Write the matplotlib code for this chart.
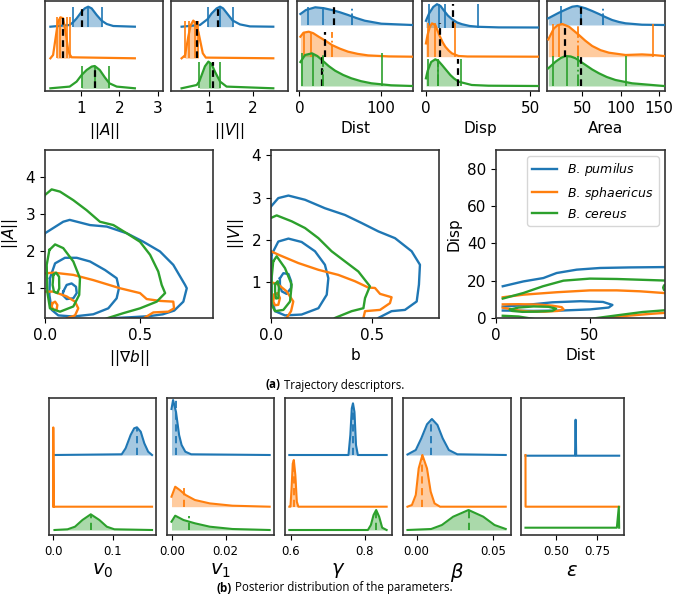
import numpy as np
import matplotlib.pyplot as plt
from matplotlib.lines import Line2D

cols = ['#1f77b4', '#ff7f0e', '#2ca02c']
species = [r'$B.\,pumilus$', r'$B.\,sphaericus$', r'$B.\,cereus$']

# ---- top row: trajectory descriptor posteriors (x, height in px above baseline)
A_x = [[0.21, 0.71, 0.80, 0.89, 1.02, 1.10, 1.19, 1.28, 1.41, 1.54, 1.67, 1.84, 2.40],
       [0.21, 0.28, 0.35, 0.37, 0.41, 0.47, 0.54, 0.61, 0.67, 0.71, 0.76, 2.40],
       [0.21, 0.71, 0.89, 1.02, 1.15, 1.28, 1.36, 1.49, 1.62, 1.74, 1.93, 2.40]]
A_h = [[0, 1.7, 4.5, 8.3, 15, 18.3, 20, 18.3, 11.7, 6, 2.7, 0.7, 0],
       [0, 3.3, 21.7, 27, 36.7, 41, 40, 25, 8.3, 4, 1, 0],
       [0, 1.7, 6.7, 13.3, 18.3, 21.7, 22.3, 18.3, 11, 5, 1.7, 0]]
A_solid = [[0.80, 1.19, 1.54], [0.37, 0.45, 0.63, 0.71], [1.02, 1.36, 1.74]]
A_black = [1.02, 0.54, 1.37]
A_mean = [None, None, None]
A_fill = [(0.80, 1.54), (0.37, 0.71), (1.02, 1.74)]

V_x = [[0.36, 0.785, 0.96, 1.055, 1.17, 1.25, 1.32, 1.44, 1.54, 1.71, 1.94, 2.48],
       [0.36, 0.44, 0.515, 0.57, 0.63, 0.69, 0.75, 0.85, 0.92, 2.48],
       [0.36, 0.71, 0.77, 0.825, 0.90, 0.98, 1.055, 1.13, 1.25, 1.40, 2.48]]
V_h = [[0, 1.7, 7.5, 13.3, 18.3, 20, 18.3, 11.7, 6.2, 2.3, 0.3, 0],
       [0, 3, 21.7, 33, 37.7, 35, 26, 5, 0.7, 0],
       [0, 3.3, 7, 13.3, 22, 26.7, 24, 16.7, 6.7, 1.7, 0]]
V_solid = [[0.96, 1.25, 1.54], [0.44, 0.52, 0.67, 0.75], [0.77, 1.02, 1.25]]
V_black = [1.21, 0.72, 1.08]
V_mean = [None, None, None]
V_fill = [(0.96, 1.54), (0.44, 0.75), (0.77, 1.25)]

Dist_x = [[1.2, 8, 19.5, 30, 40, 50, 60, 70, 80.5, 101, 139],
          [1.2, 5, 11.4, 17, 23.7, 32, 40, 50, 60, 72, 84.6, 110, 139],
          [1.2, 7, 15.5, 22, 27.7, 36, 44, 54, 64, 76, 88.7, 113, 139]]
Dist_h = [[11, 15, 17.7, 16.8, 15, 12.7, 10, 7, 4.3, 1.3, 0],
          [20, 24, 25, 23.5, 20, 16, 11.7, 8, 5, 2.8, 1.3, 0.3, 0],
          [24, 31, 32.7, 30, 26, 20, 15.3, 11, 7.7, 4.8, 2.7, 0.7, 0]]
Dist_solid = [[10.2, 28.5], [5.3, 14.3], [3.3, 16.3, 101.7]]
Dist_black = [42.7, 31.7, 27.7]
Dist_mean = [65, 40, 29]
Dist_fill = [(0, 140), (0, 140), (0, 140)]

Disp_x = [[0, 1.5, 3.5, 5.3, 7, 8.5, 10.5, 12.5, 15, 17.3, 21, 25.3, 35, 54],
          [0, 0.8, 1.9, 2.9, 4.5, 6.4, 8, 9.3, 11, 12.5, 15.7, 20, 54],
          [0, 0.8, 2.5, 4.5, 6, 7.7, 9.7, 11.7, 13.5, 15.7, 22, 30, 54]]
Disp_h = [[6.7, 14, 20.5, 23.3, 21.5, 17.3, 12, 8.3, 5, 3.3, 1.5, 0.7, 0.1, 0],
          [13.3, 22, 30, 33.3, 31.7, 21.7, 14.5, 10, 6, 3.3, 0.7, 0.2, 0],
          [7.7, 15, 24, 26.7, 25, 21, 16, 11, 7.5, 4.3, 1, 0.3, 0]]
Disp_solid = [[1.6, 6.1, 9.3, 25], [1.0, 4.5, 13.8], [0.8, 5.6, 16.8]]
Disp_black = [12.8, 6.6, 15.4]
Disp_mean = [None, None, 6.0]
Disp_fill = [(0, 25.3), (0, 15.7), (0, 17)]

Area_x = [[5.7, 19.6, 30, 37, 43.5, 54.3, 63, 71.8, 80, 89, 98, 106.5, 128, 156.5],
          [5.7, 13, 18, 24, 32.7, 39, 45.7, 54, 63, 74, 84.8, 106.5, 128, 142, 156.5],
          [5.7, 15.2, 22, 28.2, 35, 41.3, 54.3, 63, 71.8, 82, 93.4, 115, 156.5]]
Area_h = [[6.7, 12.3, 16, 18.3, 19, 16.7, 14, 11, 8, 5, 3, 1.7, 0.3, 0],
          [17.3, 28.3, 31.5, 32.7, 30, 26, 21.7, 16, 10.7, 6.5, 4, 1.7, 2.3, 1.7, 0.7],
          [17.7, 24.3, 28, 30, 29.5, 27.7, 21, 16.5, 12.7, 9, 6, 2.7, 0]]
Area_solid = [[21.7, 47.8], [11.8, 19.6, 142], [11.8, 30.4, 106.5]]
Area_black = [49, 27.4, 49]
Area_mean = [77, 44.8, 44.8]
Area_fill = [(0, 160), (0, 142), (0, 160)]

# ---- bottom row: parameter posteriors
v0_x = [[0.002, 0.115, 0.1216, 0.13, 0.136, 0.1406, 0.147, 0.153, 0.1595, 0.166],
        [0.0, 0.0, 0.0008, 0.166],
        [0.002, 0.024, 0.0365, 0.049, 0.063, 0.0775, 0.09, 0.1027, 0.166]]
v0_h = [[0, 0.7, 6.7, 20, 26.7, 27.7, 23.3, 11.7, 3.3, 0],
        [0, 79.3, 0, 0],
        [0, 0.7, 3.3, 10, 15.7, 10, 3.3, 0.7, 0]]
v0_mean = [0.1406, 0.0, 0.063]

v1_x = [[-0.0003, 0.0003, 0.0014, 0.00256, 0.0035, 0.0049, 0.0071, 0.0366],
        [-0.0003, 0.0011, 0.0028, 0.005, 0.0085, 0.0141, 0.0226, 0.0366],
        [-0.0003, 0.0011, 0.0042, 0.0085, 0.0141, 0.0226, 0.0366]]
v1_h = [[46, 55, 43, 20, 10, 3.3, 0.7, 0],
        [10, 20, 16.7, 11.7, 6.7, 3.3, 1, 0],
        [8.3, 14.3, 10, 6.7, 3.3, 1, 0]]
v1_mean = [0.0014, 0.0045, 0.0064]

g_x = [[0.5965, 0.756, 0.7611, 0.765, 0.7682, 0.7722, 0.7763, 0.7813, 0.859],
       [0.5965, 0.5995, 0.6025, 0.6057, 0.6086, 0.6127, 0.6167, 0.6208, 0.859],
       [0.5965, 0.8084, 0.8165, 0.8237, 0.8308, 0.8388, 0.847, 0.859]]
g_h = [[0, 0, 20, 46.7, 51.7, 43, 10, 0, 0],
       [0, 0, 18, 43, 46.7, 31.7, 5, 0, 0],
       [0, 0, 5, 15, 20, 13.3, 2.3, 0]]
g_mean = [0.7682, 0.6086, 0.8308]

b_x = [[-0.0059, -0.0005, 0.0031, 0.0068, 0.01, 0.0136, 0.017, 0.021, 0.0265, 0.058],
       [-0.0059, -0.003, -0.0005, 0.0014, 0.0038, 0.0068, 0.0092, 0.0117, 0.0153, 0.058],
       [-0.0059, 0.0095, 0.0165, 0.0238, 0.0338, 0.0434, 0.0507, 0.058]]
b_h = [[0.5, 5, 16.7, 30.7, 36, 30, 16.7, 5, 0.7, 0],
       [0, 1.7, 11.7, 38.3, 51.7, 38.3, 15, 3.3, 0, 0],
       [0, 1, 5, 13.3, 20, 13.3, 5, 1]]
b_mean = [0.0095, 0.0038, 0.0338]

e_x = [[0.314, 0.6145, 0.618, 0.6215, 0.882],
       [0.314, 0.3145, 0.882],
       [0.314, 0.868, 0.880, 0.882]]
e_h = [[0, 0, 36, 0, 0],
       [51.7, 0, 0],
       [0, 0, 21, 0]]
e_mean = [None, None, None]

# ---- middle row: density contours (species index, x, y)
M1 = [(0, [-0.01, 0.0, 0.096, 0.13, 0.237, 0.325, 0.43, 0.518, 0.605, 0.675, 0.737, 0.746, 0.728, 0.68, 0.62, 0.55, 0.45, 0.37, 0.33],
          [2.3, 2.48, 2.79, 2.84, 2.70, 2.66, 2.48, 2.25, 1.99, 1.63, 1.09, 1.0, 0.64, 0.40, 0.30, 0.25, 0.22, 0.20, 0.1]),
      (0, [0.026, 0.053, 0.105, 0.167, 0.237, 0.316, 0.377, 0.389, 0.377, 0.333, 0.254, 0.149, 0.070, 0.035, 0.023, 0.026],
          [1.27, 1.67, 1.82, 1.82, 1.72, 1.49, 1.27, 1.0, 0.73, 0.46, 0.30, 0.24, 0.27, 0.42, 0.82, 1.27]),
      (0, [0.096, 0.114, 0.14, 0.163, 0.167, 0.149, 0.114, 0.093, 0.096],
          [0.91, 1.09, 1.13, 1.04, 0.87, 0.73, 0.71, 0.82, 0.91]),
      (1, [-0.01, 0.0, 0.044, 0.149, 0.254, 0.395, 0.5, 0.535, 0.605, 0.675, 0.679, 0.649, 0.57, 0.518, 0.5],
          [1.40, 1.40, 1.42, 1.36, 1.22, 1.0, 0.87, 0.71, 0.66, 0.64, 0.46, 0.37, 0.35, 0.19, 0.1]),
      (1, [-0.01, 0.0, 0.044, 0.114, 0.158, 0.175, 0.158, 0.114, 0.09],
          [0.91, 0.91, 0.91, 0.78, 0.64, 0.46, 0.27, 0.19, 0.1]),
      (1, [0.04, 0.053, 0.065, 0.061, 0.044, 0.035, 0.04],
          [0.6, 0.64, 0.55, 0.42, 0.42, 0.51, 0.6]),
      (2, [-0.01, 0.0, 0.035, 0.079, 0.149, 0.219, 0.289, 0.36, 0.43, 0.5, 0.553, 0.596, 0.614, 0.632, 0.588, 0.5, 0.412, 0.325, 0.29],
          [3.4, 3.51, 3.66, 3.6, 3.37, 3.1, 2.79, 2.7, 2.48, 2.25, 1.9, 1.45, 1.09, 0.87, 0.64, 0.46, 0.33, 0.19, 0.1]),
      (2, [0.023, 0.053, 0.096, 0.149, 0.184, 0.18, 0.149, 0.079, 0.026, 0.012, 0.009, 0.023],
          [2.03, 2.18, 2.08, 1.72, 1.27, 0.82, 0.51, 0.37, 0.46, 0.91, 1.63, 2.03]),
      (2, [0.044, 0.058, 0.074, 0.075, 0.065, 0.047, 0.04, 0.044],
          [1.36, 1.42, 1.31, 1.0, 0.87, 0.91, 1.09, 1.36])]

M2 = [(0, [-0.01, 0.0, 0.036, 0.086, 0.168, 0.266, 0.365, 0.447, 0.53, 0.612, 0.694, 0.735, 0.73, 0.719, 0.661, 0.595, 0.53, 0.51],
          [2.7, 2.79, 2.99, 3.05, 2.95, 2.75, 2.59, 2.4, 2.2, 2.04, 1.73, 1.41, 0.94, 0.54, 0.34, 0.31, 0.15, 0.05]),
      (0, [0.003, 0.036, 0.086, 0.151, 0.217, 0.266, 0.283, 0.275, 0.234, 0.151, 0.069, 0.02, 0.003, 0.003],
          [1.65, 1.96, 2.03, 1.95, 1.73, 1.41, 1.09, 0.7, 0.38, 0.23, 0.21, 0.31, 0.62, 1.65]),
      (0, [0.044, 0.061, 0.086, 0.099, 0.099, 0.077, 0.053, 0.044, 0.044],
          [1.09, 1.21, 1.19, 1.02, 0.86, 0.72, 0.78, 0.94, 1.09]),
      (1, [-0.01, 0.0, 0.036, 0.135, 0.234, 0.332, 0.414, 0.48, 0.513, 0.538, 0.595, 0.587, 0.538, 0.464, 0.456, 0.45],
          [1.73, 1.73, 1.65, 1.45, 1.29, 1.17, 1.02, 0.87, 0.86, 0.72, 0.64, 0.5, 0.34, 0.31, 0.15, 0.05]),
      (1, [-0.01, 0.0, 0.036, 0.077, 0.11, 0.099, 0.077, 0.07],
          [1.0, 1.0, 0.94, 0.78, 0.54, 0.31, 0.15, 0.05]),
      (1, [0.016, 0.033, 0.044, 0.036, 0.02, 0.011, 0.016],
          [0.7, 0.74, 0.62, 0.46, 0.45, 0.54, 0.7]),
      (2, [-0.01, 0.0, 0.028, 0.102, 0.168, 0.234, 0.299, 0.365, 0.431, 0.488, 0.464, 0.456, 0.398, 0.316, 0.29],
          [2.5, 2.52, 2.58, 2.44, 2.28, 2.04, 1.73, 1.49, 1.25, 0.9, 0.62, 0.38, 0.31, 0.15, 0.05]),
      (2, [0.011, 0.028, 0.069, 0.102, 0.094, 0.061, 0.02, 0.003, 0.003, 0.011],
          [1.49, 1.61, 1.33, 0.94, 0.54, 0.34, 0.31, 0.46, 1.09, 1.49]),
      (2, [0.02, 0.033, 0.039, 0.036, 0.025, 0.02, 0.02],
          [0.95, 1.02, 0.86, 0.62, 0.61, 0.78, 0.95])]

M3 = [(0, [3.6, 14.6, 25.2, 32.3, 43, 55.4, 71.4, 92], [17, 19.6, 21.4, 24.1, 25.9, 26.8, 27.1, 27.3]),
      (0, [3.6, 15, 30, 45, 57, 62, 60, 50, 35, 20, 10, 3.6], [6.1, 6.9, 8.4, 9.0, 8.6, 7.0, 5.6, 4.6, 4.0, 3.8, 3.9, 4.0]),
      (1, [3.6, 14.6, 32.3, 50, 64.3, 76.7, 92], [11.1, 12.5, 13.8, 14.8, 14.8, 14.3, 13.2]),
      (1, [3.6, 12, 22, 30, 35, 36, 33, 26, 18, 12, 8, 3.6], [7.3, 7.4, 7.2, 6.6, 5.8, 4.6, 3.8, 3.4, 3.5, 4.0, 4.8, 5.5]),
      (1, [55, 70, 82, 92], [-0.5, 1.2, 2.2, 2.9]),
      (2, [3.6, 14.6, 25, 35.9, 50, 64.3, 76.7, 92], [10.4, 13.4, 17, 20, 21.1, 20.9, 20.5, 20]),
      (2, [7.5, 12, 20, 28, 32, 30, 22, 14, 8.5, 7.5], [4.5, 5.6, 6.2, 6.0, 5.0, 3.8, 3.4, 3.3, 3.8, 4.5]),
      (2, [50, 65, 78, 92], [-0.5, 1.5, 3.2, 4.3]),
      (2, [3.6, 12, 20], [1.2, 0.8, -0.5]),
      (2, [92, 89.5, 89, 89.5, 92], [18, 17.5, 16.3, 15, 14.5])]

W, H = 673, 595
fig = plt.figure(figsize=(6.73, 5.95), dpi=100)


def box(l, t, r, b):
    ax = fig.add_axes([l / W, 1 - b / H, (r - l) / W, (b - t) / H])
    for s in ax.spines.values():
        s.set_color('#333333')
        s.set_linewidth(1.2)
    return ax


def ridge(ax, xs, hs, bases, height, fills=None, solid=None, black=None, mean=None, mls='-.', lw=1.6):
    for i in range(3):
        x = np.array(xs[i])
        h = np.array(hs[i])
        b = bases[i]
        top = b + h.max()
        ax.plot(x, b + h, color=cols[i], lw=lw, zorder=3)
        if fills:
            lo, hi = fills[i]
            ax.fill_between(x, b, b + h, where=(x >= lo) & (x <= hi), color=cols[i], alpha=0.4, lw=0)
        else:
            ax.fill_between(x, b, b + h, color=cols[i], alpha=0.4, lw=0)
        if solid:
            ax.vlines(solid[i], b, top, color=cols[i], lw=1.2, zorder=3)
        if black and black[i] is not None:
            ax.vlines(black[i], b, top, color='k', lw=1.6, ls=(0, (3, 2)), zorder=4)
        if mean and mean[i] is not None:
            ax.vlines(mean[i], b, top, color=cols[i], lw=1.3, ls=mls, zorder=4)
    ax.set_ylim(0, height)
    ax.set_yticks([])


# top row
tops = [(45, 163), (171, 288), (297, 413), (422, 539), (547, 665)]
top_specs = [
    (A_x, A_h, [64.3, 32.7, 2.7], A_fill, A_solid, A_black, A_mean, (0.07, 3.13), [1, 2, 3], r'$||A||$'),
    (V_x, V_h, [64.3, 32.7, 2.7], V_fill, V_solid, V_black, V_mean, (0.115, 2.82), [1, 2], r'$||V||$'),
    (Dist_x, Dist_h, [66, 34.3, 5], Dist_fill, Dist_solid, Dist_black, Dist_mean, (-3, 140), [0, 100], 'Dist'),
    (Disp_x, Disp_h, [63.5, 34.3, 5], Disp_fill, Disp_solid, Disp_black, Disp_mean, (-1.9, 54.3), [0, 50], 'Disp'),
    (Area_x, Area_h, [66, 34.3, 5], Area_fill, Area_solid, Area_black, Area_mean, (4, 158), [50, 100, 150], 'Area'),
]
for (l, r), sp in zip(tops, top_specs):
    xs, hs, bases, fl, so, bl, me, xl, xt, lab = sp
    ax = box(l, 1, r, 91)
    ridge(ax, xs, hs, bases, 90, fl, so, bl, me)
    ax.set_xlim(*xl)
    ax.set_xticks(xt)
    ax.tick_params(labelsize=11)
    ax.set_xlabel(lab, fontsize=11)

# middle row
mids = [(45, 213), (271, 439), (496, 665)]
mid_specs = [
    (M1, (0, 0.884), (0.2, 4.72), [0.0, 0.5], [1, 2, 3, 4], r'$||\nabla b||$', r'$||A||$'),
    (M2, (0, 0.829), (0.148, 4.13), [0.0, 0.5], [1, 2, 3, 4], 'b', r'$||V||$'),
    (M3, (0, 90), (0, 90), [0, 50], [0, 20, 40, 60, 80], 'Dist', 'Disp'),
]
for (l, r), sp in zip(mids, mid_specs):
    lines, xl, yl, xt, yt, xlab, ylab = sp
    ax = box(l, 150, r, 318)
    for k, x, y in lines:
        ax.plot(x, y, color=cols[k], lw=1.7)
    ax.set_xlim(*xl)
    ax.set_ylim(*yl)
    ax.set_xticks(xt)
    ax.set_yticks(yt)
    ax.tick_params(labelsize=11)
    ax.set_xlabel(xlab, fontsize=11)
    ax.set_ylabel(ylab, fontsize=11)
handles = [Line2D([], [], color=c, lw=1.7) for c in cols]
ax.legend(handles, species, loc='upper right', fontsize=9)

# bottom row
bots = [(48.7, 156.2), (166.7, 274.2), (284.7, 392.2), (402.7, 510.5), (520.7, 623.6)]
bot_specs = [
    (v0_x, v0_h, [80, 28.3, 5], v0_mean, (-0.0077, 0.173), [0.0, 0.1], r'$v_0$'),
    (v1_x, v1_h, [80, 28.3, 5], v1_mean, (-0.0021, 0.0383), [0.0, 0.02], r'$v_1$'),
    (g_x, g_h, [80, 28.3, 5], g_mean, (0.584, 0.874), [0.6, 0.8], r'$\gamma$'),
    (b_x, b_h, [80, 28.3, 5], b_mean, (-0.009, 0.0611), [0.0, 0.05], r'$\beta$'),
    (e_x, e_h, [79.3, 28.3, 7.3], e_mean, (0.285, 0.909), [0.5, 0.75], r'$\varepsilon$'),
]
for (l, r), sp in zip(bots, bot_specs):
    xs, hs, bases, me, xl, xt, lab = sp
    ax = box(l, 398, r, 535)
    ridge(ax, xs, hs, bases, 137, mean=me, mls=(0, (4, 2.5)), lw=1.5)
    ax.set_xlim(*xl)
    ax.set_xticks(xt)
    ax.tick_params(labelsize=8.5)
    ax.set_xlabel(lab, fontsize=14, labelpad=2)

# sub-captions
cap = dict(fontsize=8.3, family='Open Sans', va='center')
fig.text(281 / W, 1 - 385 / H, '(a)', ha='right', weight='bold', **cap)
fig.text(284 / W, 1 - 385 / H, 'Trajectory descriptors.', ha='left', **cap)
fig.text(232 / W, 1 - 588 / H, '(b)', ha='right', weight='bold', **cap)
fig.text(235 / W, 1 - 588 / H, 'Posterior distribution of the parameters.', ha='left', **cap)

fig.savefig('out.png', dpi=100)
